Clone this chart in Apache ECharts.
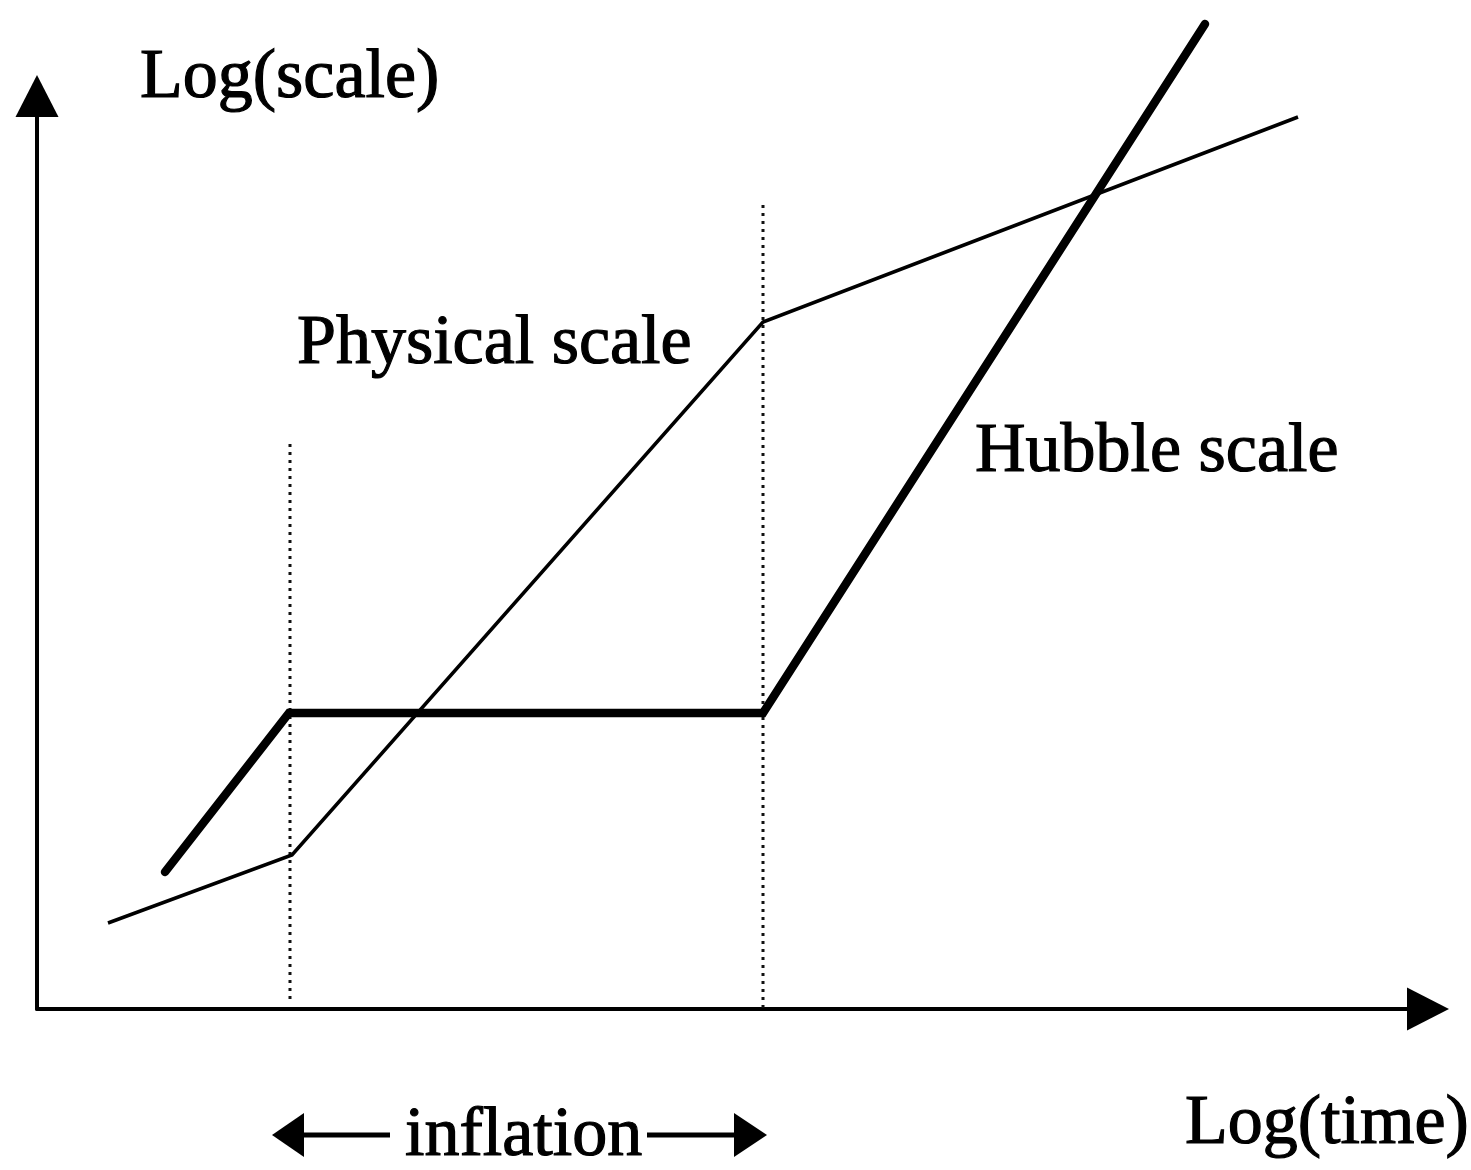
<!DOCTYPE html>
<html>
<head>
<meta charset="utf-8">
<script src="https://cdn.jsdelivr.net/npm/echarts@6/dist/echarts.min.js"></script>
<style>
html,body{margin:0;padding:0;background:#fff;}
#chart{width:1471px;height:1170px;}
</style>
</head>
<body>
<div id="chart"></div>
<script>
// Schematic values (arbitrary log units)
const physicalX = [71, 255, 726, 1261];
const physicalY = [86, 154, 687, 892];
const hubbleX = [128, 252, 726, 1168];
const hubbleY = [137, 296, 296, 985];
const inflationStartX = [253, 253];
const inflationStartY = [10, 566];
const inflationEndX = [726, 726];
const inflationEndY = [1, 805];
const labels = {
  yName: 'Log(scale)',
  xName: 'Log(time)',
  physical: 'Physical scale',
  hubble: 'Hubble scale',
  inflation: 'inflation'
};

const zip = (xs, ys) => xs.map((x, i) => [x, ys[i]]);
const FONT = '"Liberation Serif", "Times New Roman", serif';

const chart = echarts.init(document.getElementById('chart'));
const axisCommon = {
  type: 'value',
  min: 0,
  axisLine: {
    show: true,
    symbol: ['none', 'triangle'],
    symbolSize: [43, 42],
    lineStyle: { color: '#000', width: 4 }
  },
  axisTick: { show: false },
  axisLabel: { show: false },
  splitLine: { show: false }
};
const textStyle = (text, x, y) => ({
  type: 'text',
  x: x, y: y,
  style: {
    text: text,
    fontFamily: FONT,
    fontSize: 70,
    fill: '#000',
    stroke: '#000',
    lineWidth: 1.2,
    textAlign: 'left',
    textVerticalAlign: 'middle'
  }
});

const option = {
  backgroundColor: '#fff',
  animation: false,
  grid: { left: 37, right: 43, top: 96, bottom: 161, containLabel: false },
  xAxis: Object.assign({}, axisCommon, { max: 1391 }),
  yAxis: Object.assign({}, axisCommon, { max: 913 }),
  series: [
    {
      type: 'line', name: 'inflation start', data: zip(inflationStartX, inflationStartY),
      showSymbol: false, clip: false,
      lineStyle: { color: '#111', width: 3, type: [3, 5] }
    },
    {
      type: 'line', name: 'inflation end', data: zip(inflationEndX, inflationEndY),
      showSymbol: false, clip: false,
      lineStyle: { color: '#111', width: 3, type: [3, 5] }
    },
    {
      type: 'line', name: labels.physical, data: zip(physicalX, physicalY),
      showSymbol: false, clip: false,
      lineStyle: { color: '#000', width: 3.5, join: 'miter' }
    },
    {
      type: 'line', name: labels.hubble, data: zip(hubbleX, hubbleY),
      showSymbol: false, clip: false,
      lineStyle: { color: '#000', width: 8.5, cap: 'round', join: 'miter' }
    }
  ],
  graphic: [
    textStyle(labels.yName, 140, 79),
    textStyle(labels.physical, 297, 345),
    textStyle(labels.hubble, 975, 453),
    textStyle(labels.xName, 1185, 1125),
    textStyle(labels.inflation, 405, 1137),
    { type: 'line', shape: { x1: 300, y1: 1135, x2: 390, y2: 1135 }, style: { stroke: '#000', lineWidth: 5 } },
    { type: 'line', shape: { x1: 647, y1: 1135, x2: 737, y2: 1135 }, style: { stroke: '#000', lineWidth: 5 } },
    { type: 'polygon', shape: { points: [[272, 1135], [304, 1113], [304, 1157]] }, style: { fill: '#000' } },
    { type: 'polygon', shape: { points: [[767, 1135], [734, 1113], [734, 1157]] }, style: { fill: '#000' } }
  ]
};
chart.setOption(option);
</script>
</body>
</html>
